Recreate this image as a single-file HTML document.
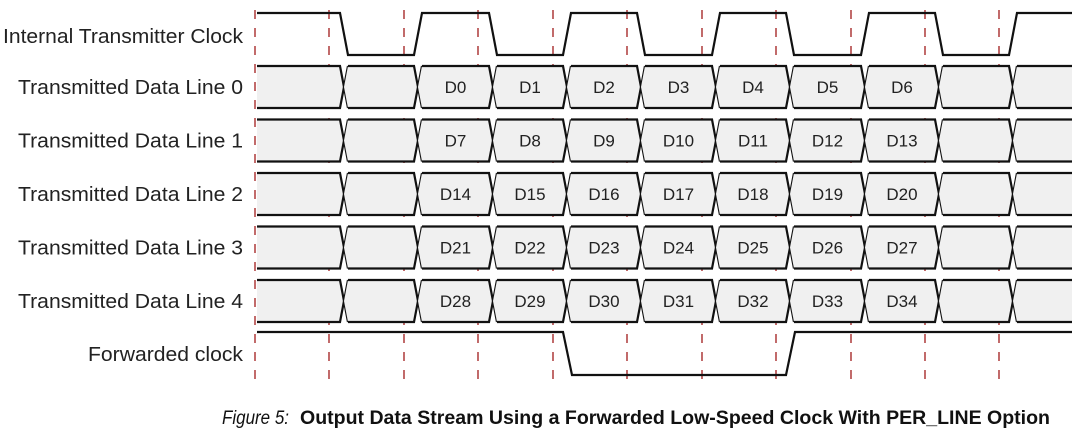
<!DOCTYPE html>
<html><head><meta charset="utf-8"><style>
html,body{margin:0;padding:0;background:#fff;width:1079px;height:436px;overflow:hidden}
svg{display:block}
.l{font-family:"Liberation Sans",sans-serif;font-size:20px;fill:#222}
.d{font-family:"Liberation Sans",sans-serif;font-size:17px;fill:#222}
</style></head><body>
<svg width="1079" height="436" viewBox="0 0 1079 436" xmlns="http://www.w3.org/2000/svg">
<g id="g"></g>
<text x="222" y="424" font-family="'Liberation Sans',sans-serif" font-size="19" font-style="italic" fill="#111" textLength="67" lengthAdjust="spacingAndGlyphs">Figure 5:</text>
<text x="300" y="424" font-family="'Liberation Sans',sans-serif" font-size="19" font-weight="bold" fill="#111" textLength="750" lengthAdjust="spacingAndGlyphs">Output Data Stream Using a Forwarded Low-Speed Clock With PER_LINE Option</text>
</svg>
<script>
var g=document.getElementById('g'),s='';
var dash=[255,329,404,478,553,627,702,776,851,925,999];
var labels=['Transmitted Data Line 0','Transmitted Data Line 1','Transmitted Data Line 2','Transmitted Data Line 3','Transmitted Data Line 4'];
var cr=[344,418,493,567,641,716,790,865,939,1013];
var xs=[257].concat(cr).concat([1072]);
dash.forEach(function(x){s+='<line x1="'+x+'" y1="10" x2="'+x+'" y2="386" stroke="#a33" stroke-width="1.6" stroke-dasharray="9,9" opacity="0.9"/>';});
for(var r=0;r<5;r++){
 var t=66+r*53.5,b=t+42,m=(t+b)/2;
 for(var i=0;i<xs.length-1;i++){
  var a=xs[i],e=xs[i+1];
  var a1=i==0?a:a+4,e1=i==xs.length-2?e:e-4;
  var p='M'+a1+','+t+' L'+e1+','+t+(i==xs.length-2?'':' L'+(e)+','+m)+' L'+e1+','+b+' L'+a1+','+b+(i==0?'':' L'+a+','+m)+' Z';
  s+='<path d="'+p+'" fill="#f0f0f0" stroke="none"/>';
  s+='<path d="M'+a1+','+t+' L'+e1+','+t+(i==xs.length-2?'':' L'+(e+4)+','+b)+'" fill="none" stroke="#111" stroke-width="2.2"/>';
  s+='<path d="M'+a1+','+b+' L'+e1+','+b+(i==xs.length-2?'':' L'+(e+4)+','+t)+'" fill="none" stroke="#111" stroke-width="2.2"/>';
  if(i>=2&&i<=8){s+='<text class="d" x="'+((a+e)/2)+'" y="'+(m+6)+'" text-anchor="middle">D'+(r*7+i-2)+'</text>';}
 }
 s+='<text class="l" x="243" y="'+(m+7)+'" text-anchor="end" textLength="225" lengthAdjust="spacingAndGlyphs">'+labels[r]+'</text>';
}
var hi=13,lo=55,p='M257,'+hi,lev=1;
cr.forEach(function(c){var y1=lev?hi:lo,y2=lev?lo:hi;p+=' L'+(c-4)+','+y1+' L'+(c+4)+','+y2;lev=1-lev;});
p+=' L1072,'+(lev?hi:lo);
s+='<path d="'+p+'" fill="none" stroke="#111" stroke-width="2.2"/>';
s+='<text class="l" x="243" y="43" text-anchor="end" textLength="240" lengthAdjust="spacingAndGlyphs">Internal Transmitter Clock</text>';
s+='<path d="M257,332 L563,332 L572,375 L786,375 L795,332 L1072,332" fill="none" stroke="#111" stroke-width="2.2"/>';
s+='<text class="l" x="243" y="361" text-anchor="end" textLength="155" lengthAdjust="spacingAndGlyphs">Forwarded clock</text>';
g.innerHTML=s;
</script>
</body></html>
